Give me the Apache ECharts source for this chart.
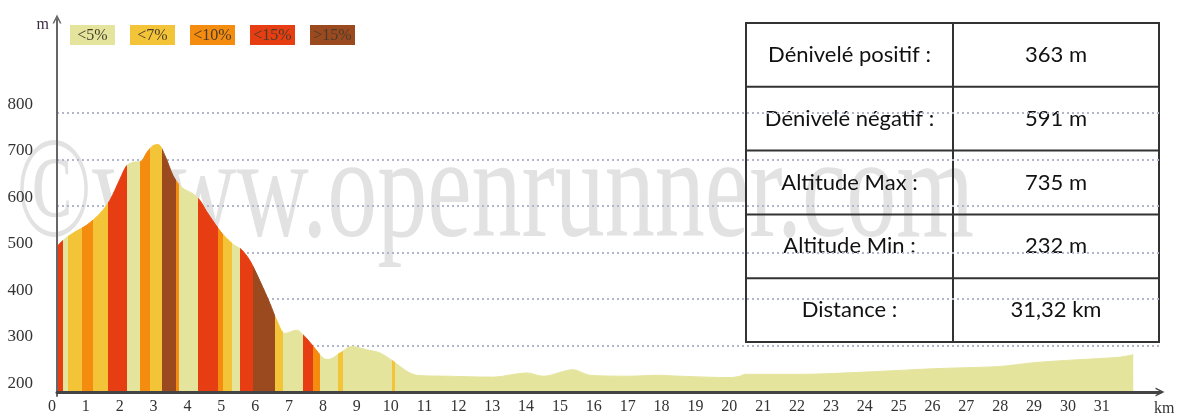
<!DOCTYPE html>
<html>
<head>
<meta charset="utf-8">
<style>
  html, body { margin: 0; padding: 0; background: #fff; }
  #chart { width: 1180px; height: 417px; }
</style>
</head>
<body>
<div id="chart"></div>
<script src="https://cdn.jsdelivr.net/npm/echarts@6/dist/echarts.min.js"></script>
<script>
// profil altimétrique : distance (km) / altitude (m)
const distKm = [0, 0.19, 0.48, 0.88, 1.27, 1.56, 1.86, 2.06, 2.25, 2.5, 2.65, 2.84, 2.99, 3.19, 3.43, 3.68, 4.02, 4.22, 4.42, 4.76,
  4.91, 5.21, 5.45, 5.7, 5.99, 6.29, 6.49, 6.73, 7.08, 7.32, 7.57, 7.86, 8.01, 8.36, 8.7, 9.14, 9.54, 9.93, 10.32, 10.62,
  11.51, 12.88, 13.87, 14.36, 15.24, 15.74, 16.92, 17.71, 18.39, 19.87, 20.17, 20.31, 21.94, 23.9, 25.87, 27.84, 28.83, 29.81, 30.79, 31.38, 31.78]
const altitude = [513, 527, 542, 559, 584, 612, 658, 687, 694, 697, 715, 730, 732, 708, 665, 640, 626, 612, 588, 552,
  538, 517, 506, 482, 439, 390, 354, 326, 333, 319, 298, 273, 270, 284, 298, 291, 284, 266, 245, 236,
  234, 232, 241, 234, 248, 236, 234, 236, 234, 231, 234, 238, 238, 243, 250, 255, 263, 268, 272, 275, 280]

// bandes de pente : bornes (km) et classe (index dans slopeLabels)
const stripeBreaks = [0, 0.19, 0.33, 0.73, 1.07, 1.52, 2.06, 2.45, 2.75, 3.1, 3.51, 3.6, 4.17, 4.76, 4.91, 5.16, 5.4, 5.8,
  6.44, 6.68, 7.27, 7.57, 7.77, 8.31, 8.45, 9.88, 9.98, 31.9]
const stripeClass = [3, 0, 1, 2, 1, 3, 0, 2, 1, 4, 2, 0, 3, 2, 1, 0, 3, 4, 1, 0, 3, 2, 0, 1, 0, 1, 0]

const slopeLabels = ['<5%', '<7%', '<10%', '<15%', '>15%']
const slopeColors = ['#e4e49d', '#f3c437', '#f48c10', '#e63e12', '#9b4a20']

const statLabels = ['Dénivelé positif :', 'Dénivelé négatif :', 'Altitude Max :', 'Altitude Min :', 'Distance :']
const statValues = ['363 m', '591 m', '735 m', '232 m', '31,32 km']

const chevron = 'path://M0,10 L5,0 L10,10 L8.2,10 L5,3.6 L1.8,10 Z'
const serif = '"Liberation Serif", "Times New Roman", serif'

const chart = echarts.init(document.getElementById('chart'))

const pieces = stripeClass.map((c, i) => ({
  gte: stripeBreaks[i],
  lt: stripeBreaks[i + 1],
  color: slopeColors[c]
}))

// légende des pentes
const legendItems = slopeLabels.map((t, i) => ({
  type: 'group',
  x: 70 + i * 60,
  y: 25,
  children: [
    { type: 'rect', shape: { x: 0, y: 0, width: 45, height: 20 }, style: { fill: slopeColors[i] } },
    {
      type: 'text', x: 22.5, y: 11,
      style: { text: t, align: 'center', verticalAlign: 'middle', font: '16px ' + serif, fill: '#4b3c2a' }
    }
  ]
}))

// tableau récapitulatif
const tX = 746, tY = 23, tW = 413, tSplit = 207, rowH = 63.8
const tableItems = [
  { type: 'rect', shape: { x: tX, y: tY, width: tW, height: rowH * statLabels.length }, style: { fill: 'none', stroke: '#333', lineWidth: 2 } },
  { type: 'line', shape: { x1: tX + tSplit, y1: tY, x2: tX + tSplit, y2: tY + rowH * statLabels.length }, style: { stroke: '#333', lineWidth: 2 } }
]
statLabels.forEach((lab, i) => {
  if (i > 0) {
    tableItems.push({ type: 'line', shape: { x1: tX, y1: tY + rowH * i, x2: tX + tW, y2: tY + rowH * i }, style: { stroke: '#333', lineWidth: 2 } })
  }
  const cy = tY + rowH * i + rowH / 2
  tableItems.push({ type: 'text', x: tX + tSplit / 2, y: cy, style: { text: lab, align: 'center', verticalAlign: 'middle', font: '22px Lato', fill: '#111' } })
  tableItems.push({ type: 'text', x: tX + tSplit + (tW - tSplit) / 2, y: cy, style: { text: statValues[i], align: 'center', verticalAlign: 'middle', font: '22px Lato', fill: '#111' } })
})

const option = {
  animation: false,
  grid: [
    { left: 57, right: 20, top: 113, bottom: 21 },
    { left: 57, right: 20, top: 19, bottom: 21 }
  ],
  xAxis: [{
    gridIndex: 0,
    type: 'value',
    min: 0,
    max: 32.57,
    interval: 1,
    z: 3,
    axisLine: { lineStyle: { color: '#444', width: 3 }, symbol: ['none', chevron], symbolSize: [10, 9] },
    axisTick: { show: false },
    splitLine: { show: false },
    axisLabel: {
      margin: 7,
      color: '#333',
      fontFamily: serif,
      fontSize: 16,
      padding: [0, 10, 0, 0],
      formatter: v => (v <= 31 ? String(v) : '')
    },
    name: 'km',
    nameLocation: 'end',
    nameGap: -6,
    nameTextStyle: { align: 'left', verticalAlign: 'top', padding: [9, 0, 0, 0], color: '#333', fontFamily: serif, fontSize: 16 }
  }, {
    gridIndex: 1,
    type: 'value',
    min: 0,
    max: 1,
    show: false
  }],
  yAxis: [{
    gridIndex: 0,
    type: 'value',
    min: 200,
    max: 800,
    interval: 100,
    axisLine: { show: false },
    axisTick: { show: false },
    axisLabel: { margin: 24, color: '#333', fontFamily: serif, fontSize: 17, verticalAlign: 'bottom' },
    splitLine: { lineStyle: { color: '#b2b6ca', type: [2, 3], width: 2 } }
  }, {
    gridIndex: 1,
    type: 'value',
    min: 0,
    max: 1,
    z: 3,
    axisLine: { show: true, onZero: false, lineStyle: { color: '#666', width: 2 }, symbol: ['none', chevron], symbolSize: [10, 9] },
    axisTick: { show: false },
    axisLabel: { show: false },
    splitLine: { show: false },
    name: 'm',
    nameLocation: 'end',
    nameGap: -6,
    nameTextStyle: { align: 'right', verticalAlign: 'middle', padding: [0, 8, 0, 0], color: '#3b2b45', fontFamily: serif, fontSize: 16 }
  }],
  visualMap: {
    type: 'piecewise',
    show: false,
    dimension: 0,
    seriesIndex: 0,
    pieces
  },
  series: [{
    type: 'line',
    xAxisIndex: 0,
    yAxisIndex: 0,
    data: distKm.map((d, i) => [d, altitude[i]]),
    symbol: 'none',
    smooth: 0.3,
    lineStyle: { width: 1 },
    areaStyle: { opacity: 1, origin: 'start' }
  }],
  graphic: [
    {
      type: 'text',
      x: 16,
      y: 270,
      scaleY: 1.45,
      z: -1,
      silent: true,
      style: { text: '©www.openrunner.com', font: '100px ' + serif, fill: '#e2e2e2', verticalAlign: 'bottom' }
    },
    ...legendItems,
    ...tableItems
  ]
}

chart.setOption(option)
</script>
</body>
</html>
